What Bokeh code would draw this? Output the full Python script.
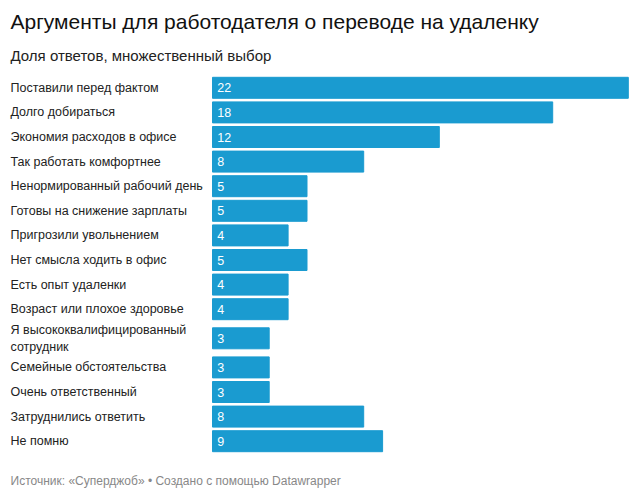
from bokeh.plotting import figure
from bokeh.models import Range1d
from bokeh.core.properties import value
from bokeh.embed import file_html
from bokeh.resources import INLINE

labels = ["Поставили перед фактом", "Долго добираться", "Экономия расходов в офисе",
          "Так работать комфортнее", "Ненормированный рабочий день", "Готовы на снижение зарплаты",
          "Пригрозили увольнением", "Нет смысла ходить в офис", "Есть опыт удаленки",
          "Возраст или плохое здоровье", "Я высококвалифицированный\nсотрудник",
          "Семейные обстоятельства", "Очень ответственный", "Затруднились ответить", "Не помню"]
values = [22, 18, 12, 8, 5, 5, 4, 5, 4, 4, 3, 3, 3, 8, 9]
title = "Аргументы для работодателя о переводе на удаленку"
subtitle = "Доля ответов, множественный выбор"
footer = "Источник: «Суперджоб» • Создано с помощью Datawrapper"

W, H = 632, 489
ppu = 18.9
x0 = 212
p = figure(width=W, height=H, output_backend="svg", toolbar_location=None,
           x_range=Range1d(-x0 / ppu, (W - x0) / ppu), y_range=Range1d(H, 0),
           min_border=0, outline_line_color=None)
p.axis.visible = False
p.grid.visible = False
F = value("Liberation Sans")
px = lambda v: (v - x0) / ppu

# row layout: normal rows 24.6px, two-line rows taller
ys = []
cur = 75
for lab in labels:
    h = 24.6 + (9 if "\n" in lab else 0)
    ys.append(cur + h / 2)
    cur += h
ly = list(ys)
p.hbar(y=ys, left=0, right=values, height=21, color="#1a9bd0")
p.text(x=[0.25] * len(values), y=ys, text=[str(v) for v in values], text_color="white",
       text_font=F, text_font_size="12.5px", text_baseline="middle")
p.text(x=[px(10)] * len(labels), y=ly, text=labels, text_color="#222222",
       text_font=F, text_font_size="12.5px", text_baseline="middle", text_line_height=1.2)
p.text(x=[px(10)], y=[21], text=[title], text_font=F, text_font_size="21px",
       text_baseline="middle", text_color="#111111")
p.text(x=[px(10)], y=[55], text=[subtitle], text_font=F, text_font_size="15px",
       text_baseline="middle", text_color="#222222")
p.text(x=[px(10)], y=[480], text=[footer], text_font=F, text_font_size="12px",
       text_baseline="middle", text_color="#888888")

open("out.html", "w").write(file_html(p, INLINE))
